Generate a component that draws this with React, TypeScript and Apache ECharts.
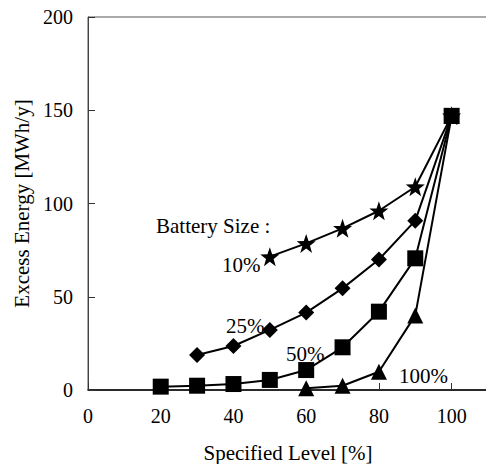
import React, { useEffect, useRef } from "react";
import * as echarts from "echarts";

// Specified level [%] on the x axis, excess energy [MWh/y] on the y axis
const battery10X = [50, 60, 70, 80, 90, 100];
const battery10Y = [71.5, 78.6, 86.7, 96.1, 109, 147];

const battery25X = [30, 40, 50, 60, 70, 80, 90, 100];
const battery25Y = [18.8, 23.6, 32.2, 41.5, 54.5, 70, 90.8, 147];

const battery50X = [20, 30, 40, 50, 60, 70, 80, 90, 100];
const battery50Y = [1.8, 2.3, 3.2, 5.4, 10.7, 22.9, 42, 70.6, 147];

const battery100X = [60, 70, 80, 90, 100];
const battery100Y = [1, 2.3, 9.8, 40, 147];

const seriesLabels = ["10%", "25%", "50%", "100%"];
const legendTitle = "Battery Size :";

const xTitle = "Specified Level [%]";
const yTitle = "Excess Energy [MWh/y]";

const STAR =
  "path://M50,0L61.76,33.82L97.55,34.55L69.02,56.18L79.39,90.45L50,70L20.61,90.45L30.98,56.18L2.45,34.55L38.24,33.82Z";

const FONT = "Liberation Serif";

const pairs = (xs: number[], ys: number[]) => xs.map((x, i) => [x, ys[i]]);

export default function App() {
  const ref = useRef<HTMLDivElement>(null);

  useEffect(() => {
    if (!ref.current) return;
    const chart = echarts.init(ref.current, null, { renderer: "svg" });

    const line = (name: string, data: number[][], symbol: string, size: number, z: number) => ({
      name,
      type: "line",
      data,
      symbol,
      symbolSize: size,
      showAllSymbol: true,
      z,
      lineStyle: { color: "#000", width: 2 },
      itemStyle: { color: "#000", borderWidth: 0 },
      emphasis: { disabled: true },
    });

    const labelText = (text: string, x: number, y: number) => ({
      type: "text",
      x,
      y,
      style: {
        text,
        font: `21px "${FONT}"`,
        fill: "#000",
        textAlign: "left",
        textVerticalAlign: "middle",
      },
      z: 100,
    });

    chart.setOption({
      animation: false,
      backgroundColor: "#fff",
      grid: {
        left: 88,
        top: 17,
        bottom: 74,
        right: -2,
        outerBoundsMode: "none",
        containLabel: false,
        show: true,
        borderColor: "#555",
        borderWidth: 1,
        backgroundColor: "transparent",
      },
      xAxis: {
        type: "value",
        min: 0,
        max: 110,
        interval: 20,
        name: xTitle,
        nameLocation: "middle",
        nameGap: 52,
        nameTextStyle: { fontFamily: FONT, fontSize: 21, color: "#000" },
        axisLine: { show: true, onZero: false, lineStyle: { color: "#000", width: 1.5 } },
        axisTick: { show: true, inside: true, length: 7, lineStyle: { color: "#333" } },
        axisLabel: {
          fontFamily: FONT,
          fontSize: 20,
          color: "#000",
          margin: 16,
          formatter: (v: number) => (v > 100 ? "" : String(v)),
        },
        splitLine: { show: false },
      },
      yAxis: {
        type: "value",
        min: 0,
        max: 200,
        interval: 50,
        name: yTitle,
        nameLocation: "middle",
        nameGap: 56,
        nameTextStyle: { fontFamily: FONT, fontSize: 21, color: "#000" },
        axisLine: { show: true, onZero: false, lineStyle: { color: "#444", width: 1 } },
        axisTick: { show: true, inside: true, length: 7, lineStyle: { color: "#333" } },
        axisLabel: { fontFamily: FONT, fontSize: 20, color: "#000", margin: 15 },
        splitLine: { show: false },
      },
      series: [
        line(seriesLabels[3], pairs(battery100X, battery100Y), "triangle", 16, 2),
        line(seriesLabels[0], pairs(battery10X, battery10Y), STAR, 19, 3),
        line(seriesLabels[1], pairs(battery25X, battery25Y), "diamond", 16, 4),
        line(seriesLabels[2], pairs(battery50X, battery50Y), "rect", 16, 5),
      ],
      graphic: [
        labelText(legendTitle, 156, 226),
        labelText(seriesLabels[0], 222, 265),
        labelText(seriesLabels[1], 226, 326),
        labelText(seriesLabels[2], 286, 354),
        labelText(seriesLabels[3], 399, 376),
      ],
    });

    return () => chart.dispose();
  }, []);

  return (
    <div
      ref={ref}
      style={{ position: "fixed", left: 0, top: 0, width: 486, height: 464 }}
    />
  );
}
